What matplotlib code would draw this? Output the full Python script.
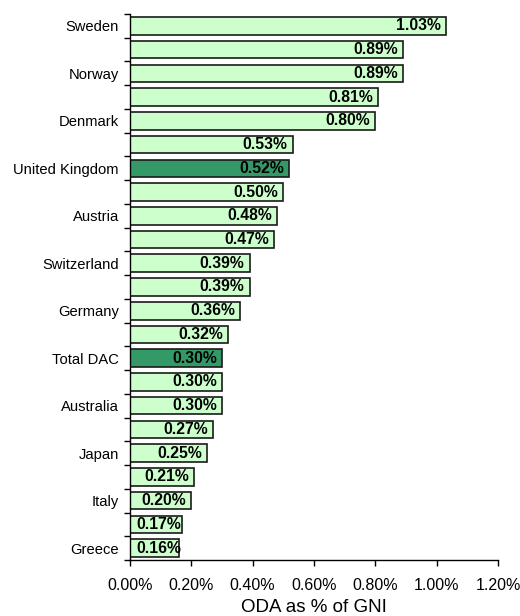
import numpy as np
import matplotlib.pyplot as plt
from matplotlib.ticker import FuncFormatter, MultipleLocator

plt.rcParams['font.family'] = ['Liberation Sans', 'DejaVu Sans']

# every other country name is hidden on the axis, as in the original
countries = ['Sweden', '', 'Norway', '', 'Denmark', '', 'United Kingdom', '',
             'Austria', '', 'Switzerland', '', 'Germany', '', 'Total DAC', '',
             'Australia', '', 'Japan', '', 'Italy', '', 'Greece']
oda = [1.03, 0.89, 0.89, 0.81, 0.80, 0.53, 0.52, 0.50, 0.48, 0.47, 0.39, 0.39,
       0.36, 0.32, 0.30, 0.30, 0.30, 0.27, 0.25, 0.21, 0.20, 0.17, 0.16]
highlight = ['United Kingdom', 'Total DAC']

light = '#CCFFCC'
dark = '#339966'

fig = plt.figure(figsize=(5.2, 6.16), dpi=100)
ax = fig.add_axes([0.25, 0.0909, 0.7077, 0.8864])

y = np.arange(len(oda))
colors = [dark if c in highlight else light for c in countries]
ax.barh(y, oda, height=0.74, color=colors, edgecolor='#1a1a1a', linewidth=1.2)

for yi, v in zip(y, oda):
    label = f'{v:.2f}%'
    if v < 0.18:
        ax.annotate(label, xy=(0, yi), xytext=(4.3, 0), textcoords='offset points',
                    ha='left', va='center', fontsize=11.3, fontweight='bold')
    else:
        ax.annotate(label, xy=(v, yi), xytext=(-3.6, 0), textcoords='offset points',
                    ha='right', va='center', fontsize=11.3, fontweight='bold')

ax.set_xlim(0, 1.2)
ax.set_ylim(len(oda) - 0.5, -0.5)
ax.xaxis.set_major_locator(MultipleLocator(0.2))
ax.xaxis.set_major_formatter(FuncFormatter(lambda x, p: f'{x:.2f}%'))

ax.set_yticks(y)
ax.set_yticklabels(countries)
ax.set_yticks(np.arange(len(oda) + 1) - 0.5, minor=True)
ax.tick_params(axis='y', which='major', length=0, pad=8, labelsize=10.6)
ax.tick_params(axis='y', which='minor', length=4, width=1)
ax.tick_params(axis='x', which='major', length=4, width=1, pad=9, labelsize=11.5)

for s in ['top', 'right']:
    ax.spines[s].set_visible(False)
for s in ['left', 'bottom']:
    ax.spines[s].set_linewidth(1.0)

ax.set_xlabel('ODA as % of GNI', fontsize=13.5, labelpad=4)

plt.savefig('out.png', dpi=100)
